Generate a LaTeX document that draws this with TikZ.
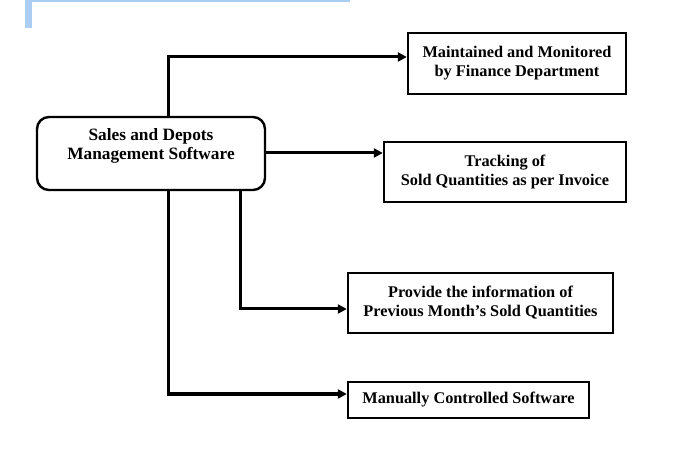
\documentclass[tikz,border=0pt]{standalone}
\usepackage{fontspec}
\setmainfont{Liberation Serif}
\usetikzlibrary{arrows.meta, positioning}
\definecolor{stripblue}{RGB}{170,206,242}
\tikzset{
    infobox/.style={draw, line width=2.4pt, rectangle, align=center,
        font=\fontsize{16.3}{19}\selectfont\bfseries},
    mainbox/.style={draw, line width=2.4pt, rectangle, rounded corners=12pt,
        minimum width=228pt, minimum height=73pt},
    link/.style={line width=3pt, -{Triangle[length=9pt,width=9pt]}}
}
\begin{document}
\begin{tikzpicture}[x=1pt,y=-1pt]
        \useasboundingbox (0,0) rectangle (675,454);
        % top strip
        \fill[stripblue] (25,0) rectangle (350,2);
        \fill[stripblue] (25,0) rectangle (32,28);

        \node[mainbox] (main) at (151,153.5) {};
        \node[align=center, font=\fontsize{17.3}{19}\selectfont\bfseries] (maintext)
            at ([yshift=8pt]main.center) {Sales and Depots\\Management Software};

        \node[infobox, minimum width=218pt, minimum height=61pt] (finance) at (517,63.5)
            {Maintained and Monitored\\by Finance Department};
        \node[infobox, minimum width=242pt, minimum height=60pt] (tracking) at (505,172)
            {Tracking of\\Sold Quantities as per Invoice};
        \node[infobox, minimum width=265pt, minimum height=60pt] (previous) at (480.5,303)
            {Provide the information of\\Previous Month’s Sold Quantities};
        \node[infobox, minimum width=241pt, minimum height=36pt] (manual) at (468.5,400)
            {Manually Controlled Software};

        \coordinate (c1) at (168,57);
        \coordinate (c2) at (240,309);
        \coordinate (c3) at (168,394);

        \draw[link] (main.north -| c1) -- (c1) -- (c1 -| finance.west);
        \draw[link] (main.east |- 0,153) -- (tracking.west |- 0,153);
        \draw[link] (main.south -| c2) -- (c2) -- (c2 -| previous.west);
        \draw[link] (main.south -| c3) -- (c3) -- (c3 -| manual.west);
    \end{tikzpicture}
\end{document}
